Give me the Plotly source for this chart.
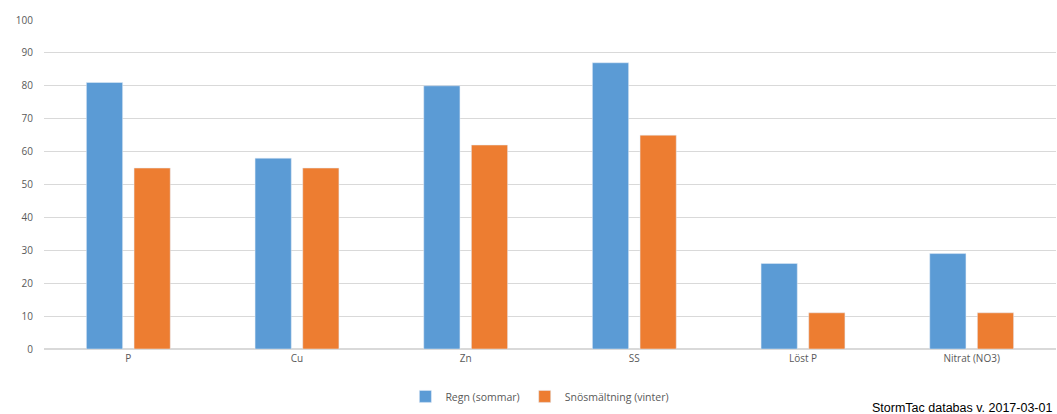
import plotly.graph_objects as go

# data
categories = ["P", "Cu", "Zn", "SS", "Löst P", "Nitrat (NO3)"]
regn_sommar = [81, 58, 80, 87, 26, 29]
snosmaltning_vinter = [55, 55, 62, 65, 11, 11]

fig = go.Figure()
fig.add_trace(go.Bar(x=categories, y=regn_sommar, name="Regn (sommar)",
                     marker_color="#5B9BD5"))
fig.add_trace(go.Bar(x=categories, y=snosmaltning_vinter, name="Snösmältning (vinter)",
                     marker_color="#ED7D31"))

fig.update_layout(
    width=1057, height=414,
    margin=dict(l=44, r=1, t=20, b=65),
    paper_bgcolor="white", plot_bgcolor="white",
    barmode="group", bargap=0.435, bargroupgap=0.24,
    font=dict(family="Open Sans", size=10, color="#595959"),
    legend=dict(orientation="h", x=0.49, xanchor="center", y=-0.1, yanchor="top",
                font=dict(size=10.5, color="#595959"), itemwidth=30),
    showlegend=True,
)
fig.update_yaxes(range=[0, 100], dtick=10, showgrid=True, gridcolor="#D9D9D9",
                 zeroline=True, zerolinecolor="#D9D9D9", ticks="", ticklabelstandoff=10,
                 automargin=False)
fig.update_xaxes(showgrid=False, ticks="", showline=True, linecolor="#D9D9D9",
                 automargin=False)

# source note bottom right
fig.add_annotation(text="StormTac databas v. 2017-03-01", xref="paper", yref="paper",
                   x=0.816, xanchor="left", y=-0.18, yanchor="middle", showarrow=False,
                   font=dict(family="Liberation Sans", size=12.5, color="black"))

fig.write_html("out.html", config={"displayModeBar": False},
               post_script="document.body.style.margin='0px';")
